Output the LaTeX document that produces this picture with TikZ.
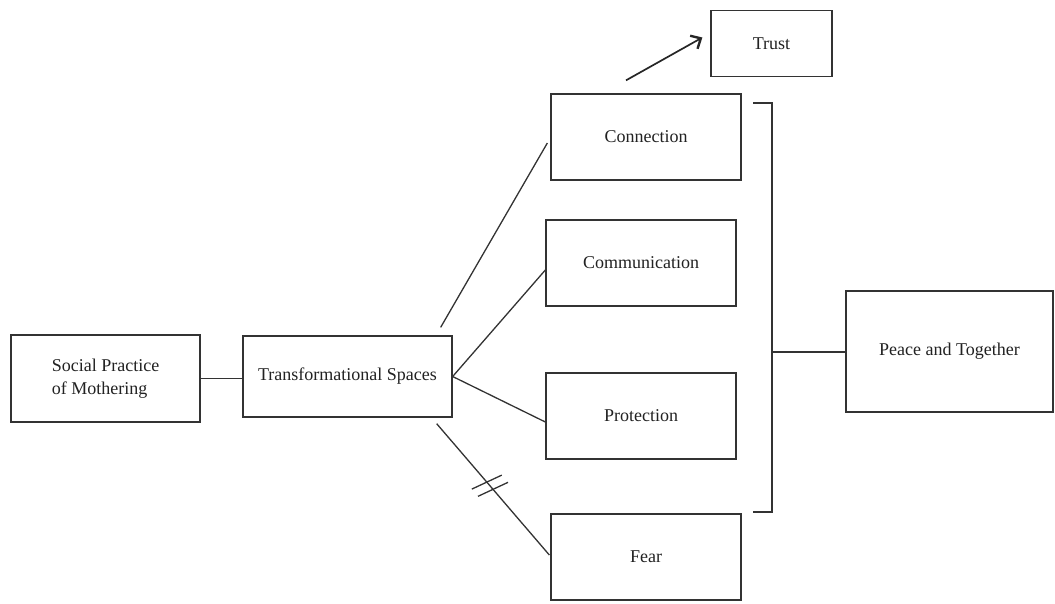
\documentclass[tikz,border=0pt]{standalone}
\usepackage{fontspec}
\setmainfont{Liberation Serif}
\usetikzlibrary{calc,arrows.meta}
\definecolor{ink}{HTML}{333333}
\definecolor{txt}{HTML}{222222}
\tikzset{
  box/.style={draw=ink, line width=1.3pt, fill=white, inner sep=0pt, text=txt,
    font=\fontsize{18}{21}\selectfont, align=center},
  conn/.style={draw=ink, line width=1.3pt},
}
\begin{document}
\begin{tikzpicture}[x=1pt,y=-1pt]
\useasboundingbox (0,0) rectangle (1055,603);
% boxes
\node[box, minimum width=189pt, minimum height=87pt, align=left, font=\fontsize{18}{23}\selectfont] (sp) at (105.5,378.5) {Social Practice\\of Mothering};
\node[box, minimum width=209pt, minimum height=81pt] (ts) at (347.5,376.5) {Transformational Spaces};
\node[box, minimum width=190pt, minimum height=86pt] (con) at (646,137) {Connection};
\node[box, minimum width=190pt, minimum height=86pt] (com) at (641,263) {Communication};
\node[box, minimum width=190pt, minimum height=86pt] (pro) at (641,416) {Protection};
\node[box, minimum width=190pt, minimum height=86pt] (fear) at (646,557) {Fear};
\node[box, minimum width=121pt, minimum height=66pt] (trust) at (771.5,43.5) {Trust};
\node[box, minimum width=207pt, minimum height=121pt] (pt) at (949.5,351.5) {Peace and Together};
% connectors
\draw[conn] (sp.east) -- (sp.east -| ts.west);
\coordinate (c1s) at ($(ts.north east)+(-12,-8)$);
\coordinate (c1e) at ($(con.west)+(-3,6)$);
\draw[conn] (c1s) -- (c1e);
\coordinate (c2e) at ($(com.west)+(0,7)$);
\draw[conn] (ts.east) -- (c2e);
\coordinate (c3e) at ($(pro.west)+(0,6)$);
\draw[conn] (ts.east) -- (c3e);
\coordinate (c4s) at ($(ts.south east)+(-16,6)$);
\coordinate (c4e) at ($(fear.west)+(-1,-2)$);
\draw[conn] (c4s) -- (c4e);
\coordinate (h1) at ($(c4s)!0.445!(c4e)$);
\coordinate (h2) at ($(c4s)!0.50!(c4e)$);
\draw[conn] ($(h1)+(-15,7)$) -- ($(h1)+(15,-7)$);
\draw[conn] ($(h2)+(-15,7)$) -- ($(h2)+(15,-7)$);
% trust arrow
\coordinate (ts1) at ($(con.north)+(-20,-13)$);
\coordinate (ts2) at ($(trust.west)+(-8,-6)$);
\draw[conn, draw=black!85, line width=1.7pt, -{Straight Barb[length=8pt,width=15pt,line width=2.4pt]}] (ts1) -- (ts2);
% bracket
\coordinate (bt) at (753,103);
\coordinate (bb) at (753,512);
\coordinate (bm) at (772,352);
\draw[conn] (bt) -- (772,103) -- (772,512) -- (bb);
\draw[conn] (bm) -- (pt.west |- bm);
\end{tikzpicture}
\end{document}
